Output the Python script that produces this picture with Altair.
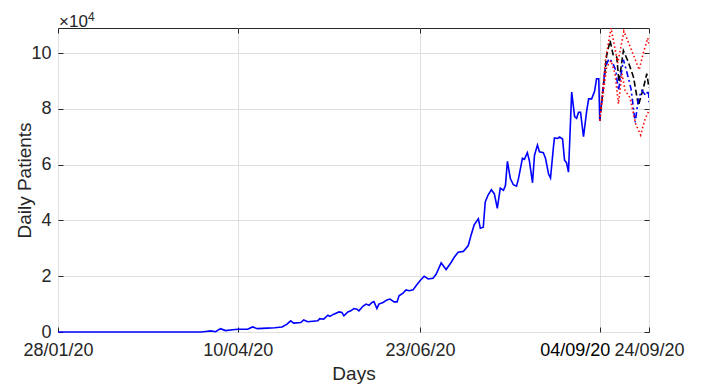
import altair as alt
import pandas as pd

# Observed daily patients (day index counted from 28/01/20)
obs_days = [0, 58, 60, 62, 64, 66, 68, 71, 73, 77, 79, 81, 85, 88, 91, 93, 94.5, 95.7,
            98.6, 99.8, 101.4, 105.5, 106.3, 107.9, 109.6, 110.4, 112, 114.1, 115.3, 116.1,
            117.7, 118.9, 120.2, 121.4, 122.2, 123.8, 125.1, 126.3, 127.5, 128.3, 129.5,
            130.3, 132, 133.6, 134.8, 136.5, 137.7, 138.5, 140.1, 141.3, 142.6, 144.2,
            145.4, 147, 148.7, 150.3, 152.3, 153.6, 155.6, 157.6, 159.7, 160.9, 162.5,
            164.6, 166.6, 167.8, 169, 170.7, 171.5, 172.7, 173.5, 174.7, 176, 177.2,
            178.4, 179.6, 180.9, 181.7, 182.5, 183.7, 184.9, 186.2, 187, 188.6, 189.4,
            190.6, 191.4, 192.7, 193.5, 194.7, 195.5, 197.1, 198, 199.2, 200, 201.2,
            201.6, 202.9, 203.7, 204.9, 205.7, 206.5, 207.3, 208.6, 209.8, 210.6, 211.4,
            212.2, 213.4, 214.7, 215.5, 216.7, 217.9, 218.7, 219.6, 220]
obs_cases = [0, 0, 200, 400, 100, 1200, 500, 800, 1000, 1000, 1800, 1200, 1400, 1500,
             1800, 2800, 4000, 3200, 3400, 4300, 3700, 4000, 4800, 4600, 6000, 5600, 6400,
             7200, 7000, 5800, 7200, 7600, 8400, 8200, 7600, 9200, 10000, 9600, 10600,
             10900, 8400, 10000, 10600, 11500, 11800, 10800, 10800, 13000, 13900, 15100,
             14800, 15100, 16600, 18400, 20000, 19000, 19300, 20800, 24800, 22400, 25000,
             26800, 28600, 28900, 31000, 34900, 38400, 40600, 37200, 37600, 46600, 49200,
             51000, 49500, 44300, 51600, 50800, 52500, 61200, 55000, 52800, 52300, 55000,
             62300, 61900, 64300, 61500, 53500, 63400, 67000, 64600, 64300, 62200, 56700,
             55200, 66400, 69600, 69400, 69900, 69200, 61600, 60700, 57300, 86000, 77200,
             76600, 78800, 78800, 70000, 79300, 83600, 83600, 86300, 90800, 90800, 75800]

# Forecast paths from 04/09/20 to 24/09/20
black_days = [220, 222.8, 224.2, 225.5, 226.9, 227.8, 229.6, 231.6, 233.7, 235.7, 237.8, 239.1, 240]
black_cases = [75800, 99100, 104500, 99100, 98600, 89600, 100900, 96800, 91400, 81200,
               87800, 92600, 87500]

blue_days = [220, 222.2, 223.8, 225.1, 226.5, 227.6, 228.6, 229.6, 231, 232.7, 234.4,
             235.7, 237.1, 238.7, 239.8, 240]
blue_cases = [75800, 95000, 98000, 96800, 93800, 86600, 92000, 97600, 93200, 87200, 75200,
              83600, 86600, 84800, 86600, 82400]

upper_days = [220, 222.4, 224.6, 227.3, 229.8, 232.5, 236, 237.8, 239.5, 240]
upper_cases = [75800, 98000, 109000, 96400, 107800, 102000, 94000, 100400, 105400, 103000]

lower_days = [220, 222.8, 224.6, 226.2, 227.6, 229, 230.3, 232.3, 234.6, 236.6, 238.4, 240]
lower_cases = [75800, 95000, 97300, 92600, 81800, 92600, 86600, 84000, 74600, 70600,
               76400, 79400]

tick_days = [0, 73, 147, 220, 240]
tick_labels = ["28/01/20", "10/04/20", "23/06/20", "04/09/20", "24/09/20"]
y_ticks = [0, 20000, 40000, 60000, 80000, 100000]
forecast_start = 220  # its date label sits left of the tick

FONT = "Liberation Sans"
INK = "#262626"


def label_expr(days, labels):
    return " : ".join(f"datum.value == {d} ? '{t}'" for d, t in zip(days, labels)) + " : ''"


main_days = [d for d in tick_days if d != forecast_start]
main_labels = [t for d, t in zip(tick_days, tick_labels) if d != forecast_start]

x_scale = alt.Scale(domain=[0, 240], nice=False, zero=False)
y_scale = alt.Scale(domain=[0, 109000], nice=False)

obs = pd.DataFrame({"day": obs_days, "cases": obs_cases})
black = pd.DataFrame({"day": black_days, "cases": black_cases})
blue = pd.DataFrame({"day": blue_days, "cases": blue_cases})
bounds = pd.concat([
    pd.DataFrame({"day": upper_days, "cases": upper_cases, "band": "upper"}),
    pd.DataFrame({"day": lower_days, "cases": lower_cases, "band": "lower"}),
])


def tick_axis(orient, values):
    # inward-pointing tick marks only
    return alt.Axis(orient=orient, values=values, offset=-5, tickSize=5, ticks=True,
                    tickColor=INK, tickWidth=1, labels=False, domain=False, grid=False,
                    title=None)


observed = alt.Chart(obs).mark_line(color="#0000ff", strokeWidth=1.6).encode(
    x=alt.X("day:Q", scale=x_scale,
            axis=alt.Axis(orient="bottom", values=tick_days,
                          labelExpr=label_expr(main_days, main_labels),
                          title="Days", grid=True, gridColor="#dfdfdf", ticks=False,
                          domain=False, labelFont=FONT, labelFontSize=18, labelColor=INK,
                          labelPadding=9, labelFlush=False, labelOverlap=False,
                          titleFont=FONT, titleFontSize=19, titleFontWeight="normal",
                          titleColor=INK, titleY=47, titleBaseline="alphabetic")),
    y=alt.Y("cases:Q", scale=y_scale,
            axis=alt.Axis(orient="left", values=y_ticks,
                          labelExpr="format(datum.value / 10000, 'd')",
                          title="Daily Patients", grid=True, gridColor="#dfdfdf",
                          ticks=False, domain=False, labelFont=FONT, labelFontSize=18,
                          labelColor=INK, labelPadding=7, titleFont=FONT, titleFontSize=19,
                          titleFontWeight="normal", titleColor=INK, titleX=-28, titleY=152,
                          titleAngle=-90, titleAlign="center", titleBaseline="alphabetic")),
)

black_line = alt.Chart(black).mark_line(color="#000000", strokeWidth=1.6,
                                        strokeDash=[6, 3], clip=True).encode(
    x=alt.X("day:Q", scale=x_scale, axis=tick_axis("bottom", tick_days)),
    y=alt.Y("cases:Q", scale=y_scale, axis=tick_axis("left", y_ticks)),
)

blue_line = alt.Chart(blue).mark_line(color="#0000ff", strokeWidth=1.6,
                                      strokeDash=[6, 3, 2, 3], clip=True).encode(
    x=alt.X("day:Q", scale=x_scale, axis=tick_axis("top", tick_days)),
    y=alt.Y("cases:Q", scale=y_scale, axis=tick_axis("right", y_ticks)),
)

start_label = [t for d, t in zip(tick_days, tick_labels) if d == forecast_start]

bound_lines = alt.Chart(bounds).mark_line(color="#ff0000", strokeWidth=1.6,
                                          strokeDash=[1.5, 2.5], clip=True).encode(
    x=alt.X("day:Q", scale=x_scale,
            axis=alt.Axis(orient="bottom", values=[forecast_start],
                          labelExpr=label_expr([forecast_start], start_label),
                          labelOffset=-25, ticks=False, grid=False, domain=False,
                          labelFont=FONT, labelFontSize=18, labelColor="#000000",
                          labelPadding=9, labelFlush=False, labelOverlap=False, title=None)),
    y=alt.Y("cases:Q", scale=y_scale, axis=None),
    detail="band:N",
)

# axis exponent marker above the y axis
exp_base = alt.Chart(pd.DataFrame({"t": ["×10"]})).mark_text(
    font=FONT, fontSize=17, color=INK, align="left", baseline="alphabetic"
).encode(text="t:N", x=alt.value(1), y=alt.value(-1))
exp_power = alt.Chart(pd.DataFrame({"t": ["4"]})).mark_text(
    font=FONT, fontSize=12, color=INK, align="left", baseline="alphabetic"
).encode(text="t:N", x=alt.value(30), y=alt.value(-7))

chart = alt.layer(observed, black_line, blue_line, bound_lines, exp_base, exp_power).resolve_axis(
    x="independent", y="independent"
).properties(
    width=591, height=304,
    autosize=alt.AutoSizeParams(type="none"),
    padding={"left": 58, "top": 28, "right": 60, "bottom": 55},
    background="white",
).configure_view(stroke=INK, strokeWidth=1)

chart.save("out.html", embed_options={"renderer": "svg", "actions": False})
